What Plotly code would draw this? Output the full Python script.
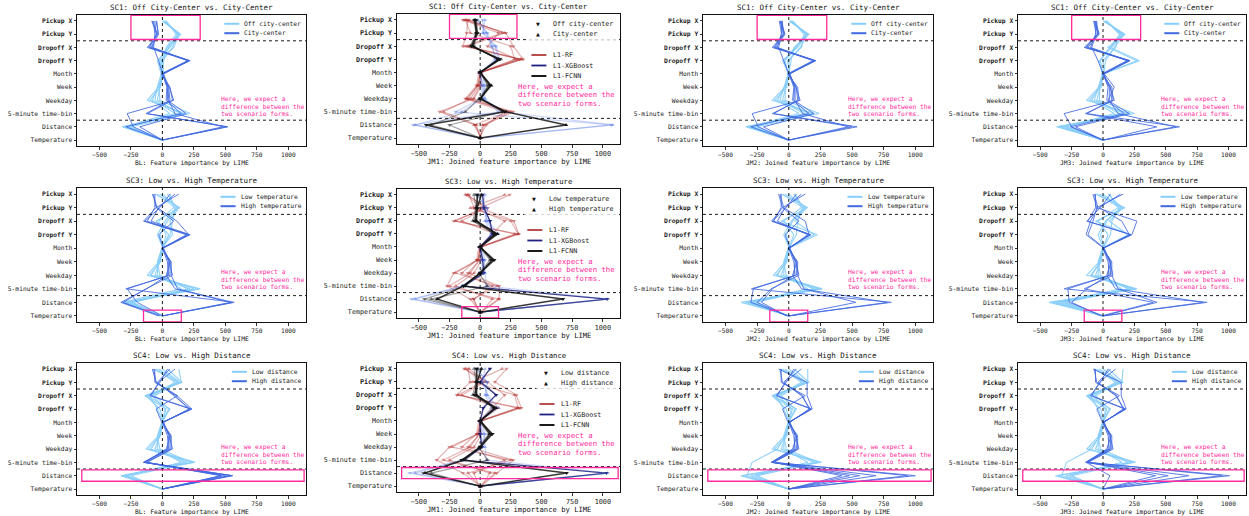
import plotly.graph_objects as go

# ---------------- data ----------------
features = ["Pickup X", "Pickup Y", "Dropoff X", "Dropoff Y", "Month", "Week",
            "Weekday", "5-minute time-bin", "Distance", "Temperature"]
bold_features = ["Pickup X", "Pickup Y", "Dropoff X", "Dropoff Y"]
x_tick_vals = [-500, -250, 0, 250, 500, 750, 1000]

row_titles = ["SC1: Off City-Center vs. City-Center",
              "SC3: Low vs. High Temperature",
              "SC4: Low vs. High Distance"]
row_forms = [["Off city-center", "City-center"],
             ["Low temperature", "High temperature"],
             ["Low distance", "High distance"]]
col_xlabels = ["BL: Feature importance by LIME",
               "JM1: Joined feature importance by LIME",
               "JM2: Joined feature importance by LIME",
               "JM3: Joined feature importance by LIME"]
model_names = ["L1-RF", "L1-XGBoost", "L1-FCNN"]
note_lines = ["Here, we expect a", "difference between the", "two scenario forms."]

# --- SC1 ---
sc1_bl_a = [[10, 130, 40, -30, 0, -30, -120, 180, -310, 0],
            [20, 120, 80, 0, 10, -20, -40, 140, -290, -10],
            [0, 145, 60, -40, -10, -40, -60, 100, -270, 10],
            [30, 110, 30, 10, 0, -25, -20, 220, -250, 0],
            [15, 135, 90, -20, 5, -35, -80, 60, -300, -5],
            [5, 125, 50, -10, 0, -15, -100, 160, -320, 0]]
sc1_bl_b = [[-80, -40, -110, 220, 0, 50, 60, -130, 520, 0],
            [-60, -50, -80, 210, 10, 40, 40, 190, -180, 0],
            [-50, -30, -90, 200, -10, 60, 80, -120, 510, 5],
            [-70, -60, -70, -30, 0, 35, 30, 150, -290, 0],
            [-85, -45, -100, 215, 5, 55, 90, -280, -230, -5],
            [-45, -35, -120, 205, 0, 45, 50, 100, 480, 0]]
sc1_jm2_a = [[20, 140, 50, -40, 0, -30, -130, 200, -330, 0],
             [10, 150, 90, 0, 5, -20, -50, 150, -300, -10],
             [30, 130, 60, -30, -5, -40, -70, 120, -280, 5],
             [0, 160, 40, 20, 0, -25, -30, 240, -260, 0],
             [25, 120, 100, -10, 10, -35, -90, 80, -310, -5],
             [15, 145, 70, -50, 0, -15, -110, 180, -340, 0]]
sc1_jm2_b = [[-70, -40, -130, 210, 0, 60, 70, -120, 540, 0],
             [-55, -60, -90, 200, 10, 45, 40, 200, -200, 0],
             [-60, -30, -100, 190, -10, 70, 80, -130, 500, 5],
             [-75, -55, -80, -40, 0, 40, 30, 160, -300, 0],
             [-50, -45, -110, 215, 5, 55, 90, -290, -240, -5],
             [-65, -35, -120, 205, 0, 50, 50, 110, 470, 0]]
sc1_jm3_a = [[20, 150, 60, 290, 0, -30, -130, 220, -370, 0],
             [10, 170, 90, 20, 5, -20, -50, 160, -320, -10],
             [30, 140, 50, -20, -5, -40, -70, 130, -290, 5],
             [0, 175, 40, 270, 0, -25, -30, 250, -340, 0],
             [25, 130, 100, 0, 10, -35, -90, 90, -300, -5],
             [15, 160, 70, -30, 0, -15, -110, 200, -360, 0]]
sc1_jm3_b = [[-70, -40, -150, 215, 0, 60, 70, -130, 610, 0],
             [-55, -60, -100, 200, 10, 90, 40, 210, -220, 0],
             [-60, -30, -120, 190, -10, 70, 80, -140, 430, 5],
             [-75, -55, -90, -40, 0, 40, 30, 170, -260, 0],
             [-50, -45, -130, 215, 5, 55, 90, -310, -250, -5],
             [-65, -35, -140, 205, 0, 50, 50, 120, 580, 0]]
sc1_jm1_rf_a = [[-130, 210, 270, 350, 0, -20, -100, 270, 30, 0],
                [-100, -110, -140, 320, 10, 0, -60, -330, -40, 10],
                [-140, 150, 60, 300, -10, -30, -120, 200, 50, -10]]
sc1_jm1_rf_b = [[-90, 180, -120, 340, 0, -10, -80, -300, -30, 0],
                [-120, -80, 250, 280, 5, -20, -110, 250, 20, 0],
                [-110, 200, -100, 330, -5, 10, -50, 230, -50, 10]]
sc1_jm1_xgb_a = [[20, 30, 130, 160, 0, 20, 30, 150, -545, 0],
                 [-30, 60, 100, 120, 10, 40, 10, -200, 1070, 0]]
sc1_jm1_xgb_b = [[40, 20, 120, 150, -10, 30, 40, 180, 1080, 0],
                 [-20, 50, 90, 140, 0, 10, 20, -150, -530, 0]]
sc1_jm1_fcnn_a = [[-45, -30, -70, 160, 0, 80, 0, 200, -440, 0],
                  [-30, -20, -50, 140, 5, 60, 10, 180, -250, 0]]
sc1_jm1_fcnn_b = [[-40, -25, -60, 150, 0, 90, 0, 210, 700, 0],
                  [-50, -35, -80, 170, -5, 70, -10, -120, -400, 0]]

# --- SC3 ---
sc3_bl_a = [[-60, 140, -50, 50, 0, -30, -120, 300, -300, 10],
            [40, 110, 20, -40, 5, -20, -60, 250, -250, 0],
            [-20, 130, 60, 80, -5, -40, -20, 200, -230, -10],
            [60, 90, -30, 30, 0, -25, -90, 280, -280, 0],
            [0, 120, 40, -20, 10, -35, -40, 150, -320, 5],
            [-40, 100, 80, 60, 0, -15, -100, 220, -260, 0]]
sc3_bl_b = [[130, -50, -150, 220, 0, 60, 60, -290, 570, 0],
            [-80, -40, 115, 210, 5, 50, 40, -125, -330, -30],
            [-60, -60, -120, 200, -5, 70, 70, 120, 560, 0],
            [100, -30, -90, 215, 0, 40, 50, -280, -200, 0],
            [-70, -50, 90, -30, 10, 55, 80, -130, -310, -20],
            [60, -20, -140, 190, 0, 65, 30, 100, 540, 0]]
sc3_jm2_a = [[-60, 150, -60, 225, 0, -30, -120, 265, -375, 10],
             [40, 120, 20, -40, 5, -20, -60, 230, -300, 0],
             [-30, 140, 50, 200, -5, -40, -20, 190, -260, -10],
             [50, 100, -40, 40, 0, -25, -90, 250, -340, 0],
             [0, 130, 30, -20, 10, -35, -40, 150, -320, 5],
             [-50, 110, 70, 60, 0, -15, -100, 210, -280, 0]]
sc3_jm2_b = [[130, -50, -135, 170, 0, 60, 60, -295, 810, 0],
             [-70, -40, 130, 160, 5, 50, 40, -130, -215, -20],
             [-60, -60, -120, 175, -5, 70, 70, 120, 530, 0],
             [100, -30, -90, 150, 0, 40, 50, -280, -300, 0],
             [-80, -50, 80, -30, 10, 55, 80, -140, -250, -10],
             [60, -20, -130, 165, 0, 65, 30, 100, 780, 0]]
sc3_jm3_a = [[-60, 175, -60, 220, 0, -30, -130, 270, -430, 10],
             [40, 150, 20, -40, 5, -20, -60, 240, -350, 0],
             [-30, 160, 50, 200, -5, -40, -20, 200, -300, -10],
             [50, 120, -40, 40, 0, -25, -90, 260, -400, 0],
             [0, 140, 30, -20, 10, -35, -40, 150, -380, 5],
             [-50, 130, 70, 60, 0, -15, -100, 220, -320, 0]]
sc3_jm3_b = [[160, -50, 270, 230, 0, 60, 60, -310, 830, 0],
             [-70, -40, -100, -135, 5, 50, 40, -130, -250, -20],
             [-60, -60, -120, 220, -5, 70, 70, 120, 430, 0],
             [140, -30, 150, 210, 0, 40, 50, -280, -270, 0],
             [-80, -50, -80, -120, 10, 55, 80, -150, 400, -10],
             [60, -20, -130, 225, 0, 65, 30, 100, 800, 0]]
sc3_jm1_rf_a = [[240, 0, 275, 315, 0, -20, -215, -270, -80, 0],
                [-110, 60, -215, 300, 10, 0, -100, 155, 155, 10],
                [-90, -50, 200, 100, -10, -30, -150, 100, -50, -10]]
sc3_jm1_rf_b = [[-120, 20, -200, 280, 0, -10, -80, -250, 150, 0],
                [200, -80, 250, 310, 5, -20, -200, 140, -60, 0],
                [-100, 40, -150, 120, -5, 10, -50, -200, 100, 10]]
sc3_jm1_xgb_a = [[20, 30, 80, 100, 0, 20, 30, -135, 1035, 0],
                 [-30, 60, 50, 120, 10, 40, 10, -130, -560, 0]]
sc3_jm1_xgb_b = [[40, 20, 60, 150, -10, 30, 40, 50, 1040, 0],
                 [-20, 50, 40, 90, 0, 10, 20, -150, -530, 0]]
sc3_jm1_fcnn_a = [[-20, -30, -40, 130, 0, 115, 0, -135, 675, 0],
                  [-30, -20, -50, 110, 5, 90, 10, -120, -455, 0]]
sc3_jm1_fcnn_b = [[10, -25, -30, 140, 0, 100, 0, -140, -350, 0],
                  [-50, -35, -60, 120, -5, 80, -10, 60, -400, 0]]

# --- SC4 ---
sc4_bl_a = [[130, 150, -140, 30, 0, -30, -130, 250, -330, 0],
            [-70, 120, -100, -40, 5, -20, -60, 200, -300, 0],
            [40, 155, -120, 60, -5, -40, -20, 230, -250, -10],
            [-50, 100, -80, 20, 0, -25, -90, 180, -320, 0],
            [0, 140, -130, -20, 10, -35, -40, 150, -280, 5],
            [-30, 130, -60, 50, 0, -15, -110, 260, -310, 0]]
sc4_bl_b = [[-80, -50, 115, 235, 0, 60, 60, -150, 560, 0],
            [60, -40, 90, 220, 5, 50, 40, -140, 465, 0],
            [-60, -60, 120, -50, -5, 70, 70, -130, 540, 0],
            [100, -30, -90, 230, 0, 40, 50, -150, 500, 0],
            [-70, -50, 100, 210, 10, 55, 80, -120, 470, 0],
            [40, -20, -100, 225, 0, 65, 30, -145, 550, 0]]
sc4_jm2_a = [[150, 150, -130, 30, 0, -30, -130, 240, -380, 0],
             [-70, 120, -100, -40, 5, -20, -60, 200, -300, 0],
             [40, 160, -120, 60, -5, -40, -20, 230, -250, -10],
             [-50, 100, -80, 20, 0, -25, -90, -290, -330, 0],
             [0, 140, -130, -20, 10, -35, -40, 150, -270, 5],
             [-30, 130, -60, 50, 0, -15, -110, 260, -360, 0]]
sc4_jm2_b = [[-80, 145, 145, 185, 0, 60, 60, -130, 1000, 0],
             [60, -40, 100, 170, 5, 50, 40, -140, 690, 0],
             [-60, -60, 130, -50, -5, 70, 70, -120, 420, 0],
             [100, -30, -90, 180, 0, 40, 50, -130, 560, 0],
             [-70, -50, 110, 160, 10, 55, 80, -120, 940, 0],
             [40, -20, -100, 175, 0, 65, 30, -135, 480, 0]]
sc4_jm3_a = [[160, 150, -130, 30, 0, -30, -130, 240, -380, 0],
             [-70, 120, -100, -40, 5, -20, -60, 200, -300, 0],
             [40, 160, -120, 60, -5, -40, -20, 230, -250, -10],
             [-50, 100, -80, 20, 0, -25, -90, -290, -330, 0],
             [0, 140, -130, -20, 10, -35, -40, 150, -270, 5],
             [-30, 130, -60, 50, 0, -15, -110, 260, -360, 0]]
sc4_jm3_b = [[-80, 145, 145, 185, 0, 60, 60, -130, 1010, 0],
             [60, -40, 100, 170, 5, 50, 40, -140, 685, 0],
             [-60, -60, 130, -50, -5, 70, 70, -120, 420, 0],
             [100, -30, -90, 180, 0, 40, 50, -130, 520, 0],
             [-70, -50, 110, 160, 10, 55, 80, -120, 950, 0],
             [40, -20, -100, 175, 0, 65, 30, -135, 55, 0]]
sc4_jm1_rf_a = [[215, 120, 295, 335, 0, -20, -250, -355, -140, 0],
                [-100, -80, -190, 320, 10, 0, -100, 270, 135, 10],
                [-130, 60, 200, 100, -10, -30, -150, 200, -50, -10]]
sc4_jm1_rf_b = [[-120, 20, -180, 300, 0, -10, -80, -300, 120, 0],
                [180, -60, 280, 310, 5, -20, -230, 250, -100, 0],
                [-90, 40, -150, 150, -5, 10, -50, -250, 80, 10]]
sc4_jm1_xgb_a = [[80, 0, 130, 25, 0, 0, 15, -140, 1030, 0],
                 [-30, 60, 50, 120, 10, 40, 10, -130, -575, 0]]
sc4_jm1_xgb_b = [[40, 20, 60, 150, -10, 30, 40, 50, 1040, 0],
                 [-20, 50, 40, 90, 0, 10, 20, -150, -530, 0]]
sc4_jm1_fcnn_a = [[-30, -30, -40, 120, 0, 100, 0, -150, 705, 0],
                  [-20, -20, -50, 110, 5, 90, 10, -120, -465, 0]]
sc4_jm1_fcnn_b = [[10, -25, -30, 130, 0, 80, 0, -140, -450, 0],
                  [-50, -35, -60, 120, -5, 70, -10, 60, -400, 0]]

# highlighted regions per row (data units)
hl_x = [(-250, 300), (-150, 150), (-640, 1125)]
hl_y = [(-0.42, 1.4), (8.58, 9.45), (7.57, 8.42)]

# ---------------- assembly ----------------
simple_panels = {
    (0, 0): (sc1_bl_a, sc1_bl_b), (0, 2): (sc1_jm2_a, sc1_jm2_b), (0, 3): (sc1_jm3_a, sc1_jm3_b),
    (1, 0): (sc3_bl_a, sc3_bl_b), (1, 2): (sc3_jm2_a, sc3_jm2_b), (1, 3): (sc3_jm3_a, sc3_jm3_b),
    (2, 0): (sc4_bl_a, sc4_bl_b), (2, 2): (sc4_jm2_a, sc4_jm2_b), (2, 3): (sc4_jm3_a, sc4_jm3_b),
}
jm1_panels = {
    0: [(sc1_jm1_rf_a, sc1_jm1_rf_b), (sc1_jm1_xgb_a, sc1_jm1_xgb_b), (sc1_jm1_fcnn_a, sc1_jm1_fcnn_b)],
    1: [(sc3_jm1_rf_a, sc3_jm1_rf_b), (sc3_jm1_xgb_a, sc3_jm1_xgb_b), (sc3_jm1_fcnn_a, sc3_jm1_fcnn_b)],
    2: [(sc4_jm1_rf_a, sc4_jm1_rf_b), (sc4_jm1_xgb_a, sc4_jm1_xgb_b), (sc4_jm1_fcnn_a, sc4_jm1_fcnn_b)],
}

W, H = 1249, 516
FONT = "DejaVu Sans Mono"
PINK = "#ff2a9d"
LIGHT = "#87CEFA"
BLUE = "#4169E1"
MODEL_RGB = [(178, 40, 40), (65, 105, 225), (20, 20, 20)]
MODEL_KEY = ["#b03c3c", "#1f1f86", "#000000"]
COL_PX = [(77, 306), (397, 620), (703, 933), (1018, 1246)]
ROW_PX = [(15, 146), (188, 322), (363, 495)]
ROW_PX_JM1 = [(14, 144), (189, 318), (363, 492)]

tick_text = ["<b>%s</b>" % f if f in bold_features else f for f in features]

fig = go.Figure()
layout = {}
shapes = []
annots = []


def rgba(rgb, a):
    return "rgba(%d,%d,%d,%.2f)" % (rgb[0], rgb[1], rgb[2], a)


for r in range(3):
    for c in range(4):
        k = r * 4 + c + 1
        s = "" if k == 1 else str(k)
        xn, yn = "x" + s, "y" + s
        jm1 = (c == 1)
        x0p, x1p = COL_PX[c]
        y0p, y1p = (ROW_PX_JM1 if jm1 else ROW_PX)[r]
        pw, ph = x1p - x0p, y1p - y0p
        tfs = 6.8 if jm1 else 6.2
        lfs = 6.7 if jm1 else 6.3

        layout["xaxis" + s] = dict(
            domain=[x0p / W, x1p / W], anchor=yn, range=[-678, 1140],
            tickmode="array", tickvals=x_tick_vals, ticks="outside", ticklen=2.5,
            tickwidth=0.8, tickcolor="#333", showgrid=False, zeroline=False,
            showline=True, mirror=True, linecolor="#111", linewidth=1,
            tickfont=dict(family=FONT, size=tfs, color="#222"), fixedrange=True)
        layout["yaxis" + s] = dict(
            domain=[1 - y1p / H, 1 - y0p / H], anchor=xn, type="category",
            categoryorder="array", categoryarray=features, range=[9.45, -0.45],
            tickmode="array", tickvals=features, ticktext=tick_text,
            ticks="outside", ticklen=2.5, tickwidth=0.8, tickcolor="#333",
            showgrid=False, zeroline=False, showline=True, mirror=True,
            linecolor="#111", linewidth=1,
            tickfont=dict(family=FONT, size=lfs, color="#222"), fixedrange=True)

        # ---- traces ----
        if not jm1:
            set_a, set_b = simple_panels[(r, c)]
            for vals in set_a:
                fig.add_trace(go.Scatter(x=vals, y=features, mode="lines", xaxis=xn, yaxis=yn,
                                         line=dict(color=LIGHT, width=1.1), opacity=0.9,
                                         name=row_forms[r][0], showlegend=False, hoverinfo="skip"))
            for vals in set_b:
                fig.add_trace(go.Scatter(x=vals, y=features, mode="lines", xaxis=xn, yaxis=yn,
                                         line=dict(color=BLUE, width=1.0), opacity=0.85,
                                         name=row_forms[r][1], showlegend=False, hoverinfo="skip"))
        else:
            for m, (set_a, set_b) in enumerate(jm1_panels[r]):
                for form, lines in enumerate((set_a, set_b)):
                    sym = "triangle-down" if form == 0 else "triangle-up"
                    for i, vals in enumerate(lines):
                        rgb = MODEL_RGB[m]
                        a, w = [0.35, 0.28, 0.4][m], 1.2
                        if m == 2 and i == 0:
                            a, w = 0.85, 1.5
                        if m == 1 and r > 0 and form == 0 and i == 0:
                            rgb, a, w = (25, 25, 112), 0.85, 1.4
                        fig.add_trace(go.Scatter(
                            x=vals, y=features, mode="lines+markers", xaxis=xn, yaxis=yn,
                            line=dict(color=rgba(rgb, a), width=w),
                            marker=dict(symbol=sym, size=4, color=rgba(rgb, min(1, a + 0.1))),
                            name="%s %s" % (model_names[m], row_forms[r][form]),
                            showlegend=False, hoverinfo="skip"))

        xd, yd = xn + " domain", yn + " domain"

        # ---- reference lines ----
        for yy in (1.5, 7.5):
            shapes.append(dict(type="line", xref=xd, yref=yn, x0=0, x1=1, y0=yy, y1=yy,
                               line=dict(color="black", width=0.9, dash="dot"), layer="above"))
        shapes.append(dict(type="line", xref=xn, yref=yd, x0=0, x1=0, y0=0, y1=1,
                           line=dict(color="black", width=0.9, dash="dot"), layer="above"))
        # ---- highlight rectangle ----
        shapes.append(dict(type="rect", xref=xn, yref=yn, x0=hl_x[r][0], x1=hl_x[r][1],
                           y0=hl_y[r][0], y1=hl_y[r][1], line=dict(color=PINK, width=1.3),
                           fillcolor="rgba(0,0,0,0)", layer="above"))

        def fx(px):
            return px / pw

        def fy(px):
            return 1 - px / ph

        # ---- title & x label ----
        annots.append(dict(text=row_titles[r], xref=xd, yref=yd, x=0.5, y=1, xanchor="center",
                           yanchor="middle", yshift=7.5, showarrow=False, borderpad=0,
                           font=dict(family=FONT, size=7.3 if jm1 else 7.5, color="#111")))
        annots.append(dict(text=col_xlabels[c], xref=xd, yref=yd, x=0.5, y=0, xanchor="center",
                           yanchor="middle", yshift=-17.5 if jm1 else -17, showarrow=False, borderpad=0,
                           font=dict(family=FONT, size=7.2 if jm1 else 6.3, color="#111")))

        forms = row_forms[r]
        if not jm1:
            cw = 3.78
            tl = pw - 6 - max(len(t) for t in forms) * cw
            shapes.append(dict(type="rect", xref=xd, yref=yd, x0=fx(tl - 22), x1=fx(pw - 2),
                               y0=fy(2), y1=fy(24), fillcolor="rgba(255,255,255,0.8)",
                               line=dict(width=0), layer="above"))
            for i, (t, col) in enumerate(zip(forms, (LIGHT, BLUE))):
                yo = 8.8 + 9.4 * i
                shapes.append(dict(type="line", xref=xd, yref=yd, x0=fx(tl - 19), x1=fx(tl - 4),
                                   y0=fy(yo), y1=fy(yo), line=dict(color=col, width=2), layer="above"))
                annots.append(dict(text=t, xref=xd, yref=yd, x=fx(tl), y=fy(yo), xanchor="left",
                                   yanchor="middle", showarrow=False, borderpad=0,
                                   font=dict(family=FONT, size=6.3, color="#222")))
            for i, t in enumerate(note_lines):
                annots.append(dict(text=t, xref=xd, yref=yd, x=fx(pw - 86.5), y=fy(83.7 + 7.3 * i),
                                   xanchor="left", yanchor="middle", showarrow=False, borderpad=0,
                                   font=dict(family=FONT, size=6.3, color=PINK)))
        else:
            cw = 4.04
            tl = pw - 7 - max(len(t) for t in forms) * cw
            shapes.append(dict(type="rect", xref=xd, yref=yd, x0=fx(tl - 24), x1=fx(pw - 2),
                               y0=fy(3), y1=fy(26), fillcolor="rgba(255,255,255,0.8)",
                               line=dict(width=0), layer="above"))
            for i, (t, sym) in enumerate(zip(forms, ("▼", "▲"))):
                yo = 10 + 10 * i
                annots.append(dict(text=sym, xref=xd, yref=yd, x=fx(tl - 14), y=fy(yo),
                                   xanchor="center", yanchor="middle", showarrow=False, borderpad=0,
                                   font=dict(family="DejaVu Sans", size=5, color="#111")))
                annots.append(dict(text=t, xref=xd, yref=yd, x=fx(tl), y=fy(yo), xanchor="left",
                                   yanchor="middle", showarrow=False, borderpad=0,
                                   font=dict(family=FONT, size=6.7, color="#222")))
            shapes.append(dict(type="rect", xref=xd, yref=yd, x0=fx(tl - 26), x1=fx(tl + 46),
                               y0=fy(34), y1=fy(68), fillcolor="rgba(255,255,255,0.8)",
                               line=dict(width=0), layer="above"))
            for i, t in enumerate(model_names):
                yo = 41 + 10.5 * i
                shapes.append(dict(type="line", xref=xd, yref=yd, x0=fx(tl - 21), x1=fx(tl - 6),
                                   y0=fy(yo), y1=fy(yo), line=dict(color=MODEL_KEY[i], width=1.8),
                                   layer="above"))
                annots.append(dict(text=t, xref=xd, yref=yd, x=fx(tl), y=fy(yo), xanchor="left",
                                   yanchor="middle", showarrow=False, borderpad=0,
                                   font=dict(family=FONT, size=6.7, color="#222")))
            for i, t in enumerate(note_lines):
                annots.append(dict(text=t, xref=xd, yref=yd, x=fx(119.5), y=fy(72 + 8.5 * i),
                                   xanchor="left", yanchor="middle", showarrow=False, borderpad=0,
                                   font=dict(family=FONT, size=7.3, color=PINK)))

fig.update_layout(**layout)
fig.update_layout(width=W, height=H, autosize=False, margin=dict(l=0, r=0, t=0, b=0),
                  paper_bgcolor="white", plot_bgcolor="white", showlegend=False,
                  shapes=shapes, annotations=annots,
                  font=dict(family=FONT, color="#222"))

fig.write_html("out.html", config={"displayModeBar": False},
               post_script="document.body.style.margin='0';document.body.style.overflow='hidden';")
